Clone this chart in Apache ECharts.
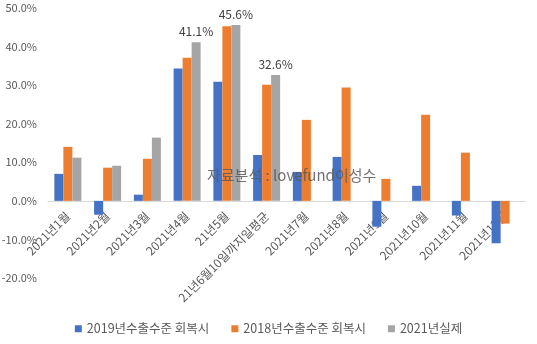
<!DOCTYPE html>
<html><head><meta charset="utf-8">
<script src="https://cdn.jsdelivr.net/npm/echarts@6/dist/echarts.min.js"></script>
<style>html,body{margin:0;padding:0;background:#fff}#c{width:537px;height:344px}</style>
</head><body><div id="c"></div>
<script>
var categories = ['2021년1월','2021년2월','2021년3월','2021년4월','21년5월','21년6월10일까지일평균','2021년7월','2021년8월','2021년9월','2021년10월','2021년11월','2021년12월'];
var s2019 = [7.0,-3.6,1.6,34.3,30.9,11.9,7.5,11.4,-6.7,3.9,-3.8,-11.0];
var s2018 = [14.0,8.6,10.9,37.1,45.3,30.1,21.0,29.4,5.7,22.3,12.5,-5.9];
var s2021 = [11.2,9.1,16.4,41.1,45.6,32.6,null,null,null,null,null,null];
var labeledIdx = [3,4,5];
var yTicks = {min:-20,max:50,interval:10};
var FONT = '"Noto Sans CJK KR", "Noto Sans", sans-serif';
var GRID = {left:48,right:12,top:8,bottom:66};
var plotH = 344 - GRID.top - GRID.bottom;
var zeroOffset = -plotH * (0 - yTicks.min) / (yTicks.max - yTicks.min);
var chart = echarts.init(document.getElementById('c'));
chart.setOption({
  animation:false,
  textStyle:{fontFamily:FONT},
  grid:{left:GRID.left,right:GRID.right,top:GRID.top,bottom:GRID.bottom,containLabel:false,outerBoundsMode:'none'},
  legend:{bottom:4,left:'center',itemWidth:7,itemHeight:7,icon:'rect',itemGap:22,
    textStyle:{color:'#595959',fontSize:12.5,fontFamily:FONT},
    data:['2019년수출수준 회복시','2018년수출수준 회복시','2021년실제']},
  xAxis:{type:'category',data:categories,offset:zeroOffset,
    axisLine:{onZero:false,lineStyle:{color:'#D9D9D9'}},
    axisTick:{show:false},
    axisLabel:{rotate:45,color:'#595959',fontSize:12,margin:13,interval:0,fontFamily:FONT}},
  yAxis:{type:'value',min:yTicks.min,max:yTicks.max,interval:yTicks.interval,
    splitLine:{show:false},axisLine:{show:false},axisTick:{show:false},
    axisLabel:{color:'#595959',fontSize:11,margin:11,fontFamily:FONT,formatter:function(v){return v.toFixed(1)+'%';}}},
  series:[
    {name:'2019년수출수준 회복시',type:'bar',data:s2019,barWidth:9,barGap:'0%',itemStyle:{color:'#4472C4'}},
    {name:'2018년수출수준 회복시',type:'bar',data:s2018,barWidth:9,barGap:'0%',itemStyle:{color:'#ED7D31'}},
    {name:'2021년실제',type:'bar',data:s2021.map(function(v,i){
        return labeledIdx.indexOf(i)>=0 ? {value:v,label:{show:true}} : v;}),
      barWidth:9,barGap:'0%',itemStyle:{color:'#A5A5A5'},
      label:{show:false,position:'top',color:'#404040',fontSize:12,distance:5,fontFamily:FONT,
        formatter:function(p){return p.value.toFixed(1)+'%';}}}
  ],
  graphic:[{type:'text',left:207,top:168,z:100,style:{text:'자료분석 : lovefund이성수',fill:'rgba(89,89,89,0.85)',font:'15px '+FONT}}]
});
</script></body></html>
